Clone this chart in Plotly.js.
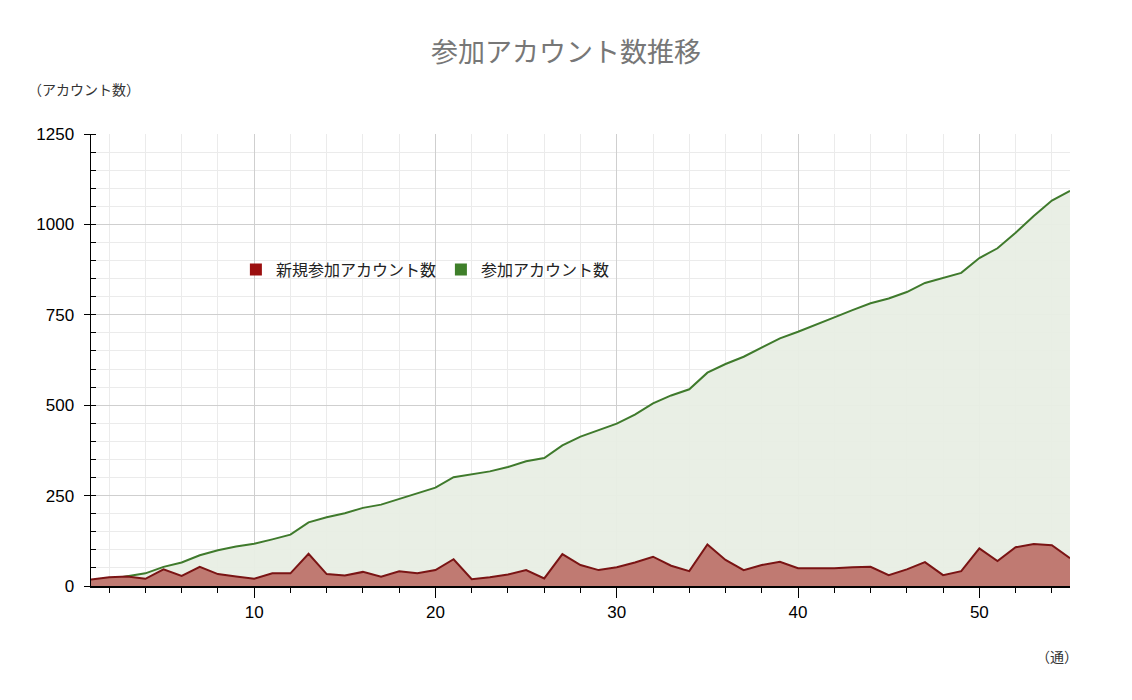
<!DOCTYPE html>
<html>
<head>
<meta charset="utf-8">
<script src="https://cdn.plot.ly/plotly-3.0.1.min.js"></script>
<style>
  html, body { margin: 0; padding: 0; background: #fff; }
  #chart { width: 1132px; height: 700px; }
</style>
</head>
<body>
<div id="chart"></div>
<script>
// 週 (1..55)
var weeks = [];
for (var i = 1; i <= 55; i++) weeks.push(i);

// 新規参加アカウント数
var newAccounts = [18, 24, 26, 20, 46, 28, 53, 33, 26, 20,
                   35, 35, 89, 33, 29, 39, 26, 41, 35, 44,
                   74, 19, 24, 32, 44, 21, 88, 58, 44, 52,
                   65, 81, 56, 41, 115, 72, 44, 58, 67, 49,
                   49, 49, 52, 53, 30, 46, 66, 30, 41, 104,
                   69, 107, 116, 113, 77];

// 参加アカウント数
var totalAccounts = [10, 19, 27, 35, 53, 65, 85, 99, 109, 117,
                     129, 142, 176, 190, 201, 216, 225, 241, 255, 272,
                     301, 308, 317, 329, 345, 354, 389, 413, 430, 449,
                     474, 505, 527, 544, 590, 614, 634, 660, 685, 703,
                     724, 743, 763, 782, 795, 813, 838, 851, 866, 907,
                     934, 977, 1023, 1066, 1093];

var seriesNames = ['新規参加アカウント数', '参加アカウント数'];
var cjk = '"Noto Sans CJK JP", "Noto Sans", sans-serif';
var latin = '"Liberation Sans", Arial, sans-serif';

var traces = [
  {
    x: weeks, y: totalAccounts, type: 'scatter', mode: 'lines',
    fill: 'tozeroy', fillcolor: 'rgba(232,238,228,0.95)',
    line: { color: '#3f7a2c', width: 2 },
    showlegend: false, hoverinfo: 'x+y'
  },
  {
    x: weeks, y: newAccounts, type: 'scatter', mode: 'lines',
    fill: 'tozeroy', fillcolor: 'rgb(192,122,114)',
    line: { color: '#7a1414', width: 2 },
    showlegend: false, hoverinfo: 'x+y'
  },
  // 凡例用
  {
    x: [null], y: [null], type: 'scatter', mode: 'markers', name: seriesNames[0],
    marker: { symbol: 'square', size: 12, color: '#9b0f0f' }
  },
  {
    x: [null], y: [null], type: 'scatter', mode: 'markers', name: seriesNames[1],
    marker: { symbol: 'square', size: 12, color: '#3f7f2a' }
  }
];

var layout = {
  width: 1132, height: 700,
  margin: { l: 91, r: 62, t: 134, b: 114 },
  paper_bgcolor: '#fff', plot_bgcolor: '#fff',
  title: {
    text: '参加アカウント数推移',
    font: { family: cjk, size: 27, color: '#777' },
    x: 0.5, xanchor: 'center', y: 0.925, yanchor: 'middle'
  },
  showlegend: true,
  legend: {
    orientation: 'h', x: 0.148, xanchor: 'left', y: 0.7, yanchor: 'middle',
    font: { family: cjk, size: 16, color: '#222' },
    bgcolor: 'rgba(0,0,0,0)', itemwidth: 30, tracegroupgap: 0
  },
  xaxis: {
    range: [1, 55], tick0: 0, dtick: 10,
    showline: true, linecolor: '#000', linewidth: 1.5,
    ticks: 'outside', ticklen: 10, tickcolor: '#000',
    tickfont: { family: latin, size: 17, color: '#000' },
    showgrid: true, gridcolor: '#cfcfcf', zeroline: false,
    minor: { dtick: 2, showgrid: true, gridcolor: '#ebebeb', ticks: 'outside', ticklen: 5, tickcolor: '#000' }
  },
  yaxis: {
    range: [0, 1250], tick0: 0, dtick: 250,
    showline: true, linecolor: '#000', linewidth: 1.5,
    ticks: 'outside', ticklen: 6, tickcolor: '#000',
    ticklabelstandoff: 6,
    tickfont: { family: latin, size: 17, color: '#000' },
    showgrid: true, gridcolor: '#cfcfcf', zeroline: false,
    minor: { dtick: 50, showgrid: true, gridcolor: '#ebebeb', ticks: 'inside', ticklen: 5, tickcolor: '#000' }
  },
  annotations: [
    {
      text: '（アカウント数）', xref: 'paper', yref: 'paper',
      x: -0.066, y: 1.0, xanchor: 'left', yanchor: 'middle',
      yshift: 45, showarrow: false,
      font: { family: cjk, size: 14, color: '#333' }
    },
    {
      text: '（通）', xref: 'paper', yref: 'paper',
      x: 1.0, y: 0, xanchor: 'right', yanchor: 'middle',
      xshift: 10, yshift: -70, showarrow: false,
      font: { family: cjk, size: 14, color: '#333' }
    }
  ]
};

Plotly.newPlot('chart', traces, layout, { displayModeBar: false, staticPlot: true });
</script>
</body>
</html>
